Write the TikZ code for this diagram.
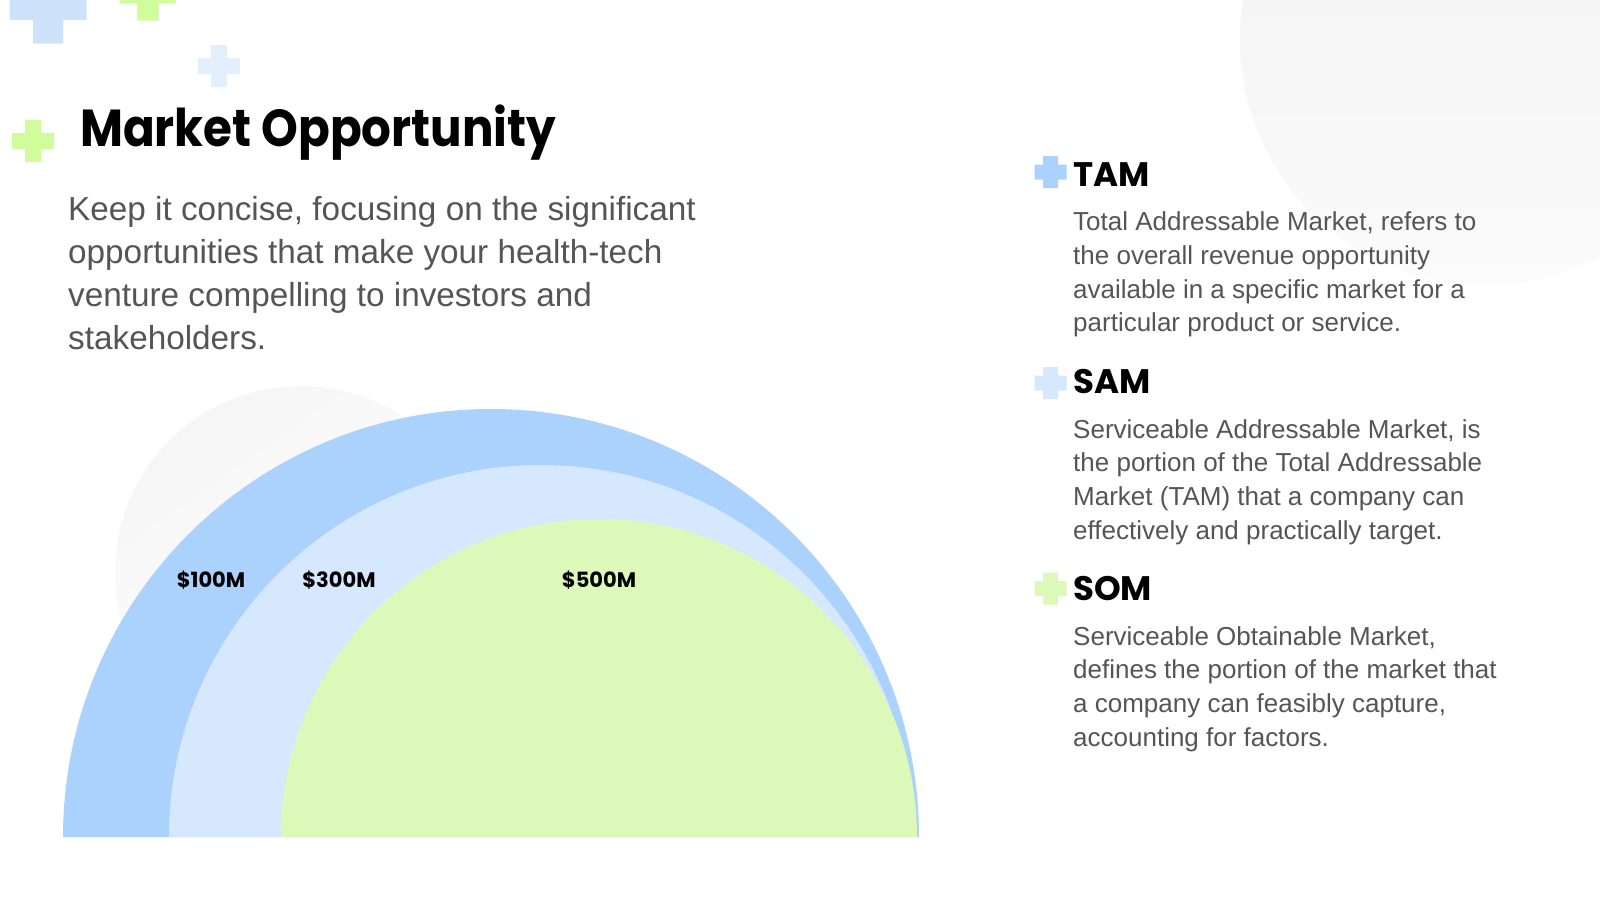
\documentclass[tikz,border=0pt]{standalone}
\usepackage{fontspec}
\setmainfont{Liberation Sans}
\newfontfamily\poppins{Poppins}
\definecolor{tamblue}{RGB}{171,209,253}
\definecolor{samblue}{RGB}{214,232,254}
\definecolor{somgreen}{RGB}{220,249,186}
\definecolor{txtgray}{RGB}{85,85,85}
\definecolor{crossblue}{RGB}{207,226,252}
\definecolor{crossgreen}{RGB}{208,252,155}
\definecolor{crosspale}{RGB}{228,239,254}
\definecolor{bgA}{RGB}{241,241,241}
\definecolor{bgB}{RGB}{251,251,251}
\definecolor{bgC}{RGB}{246,246,246}
\newcommand\plusmark[5]{%
  \fill[#5] (#1-#3,#2-#4) rectangle (#1+#3,#2+#4) (#1-#4,#2-#3) rectangle (#1+#4,#2+#3);}
\begin{document}
\begin{tikzpicture}[x=1pt,y=-1pt,
  bodytext/.style={anchor=base west, inner sep=0pt, text=txtgray, font=\fontsize{26}{33}\selectfont},
  subtext/.style={anchor=base west, inner sep=0pt, text=txtgray, font=\fontsize{33.3}{43}\selectfont},
  headtext/.style={anchor=base west, inner sep=0pt, text=black, font=\poppins\bfseries\fontsize{34}{40}\selectfont},
  titletext/.style={anchor=base west, inner sep=0pt, text=black, font=\poppins\bfseries\fontsize{52}{60}\selectfont},
  valuelabel/.style={anchor=base, inner sep=0pt, text=black, font=\poppins\bfseries\fontsize{21}{26}\selectfont}]
\clip (0,0) rectangle (1600,900);
\fill[white] (0,0) rectangle (1600,900);
% background circles
\shade[left color=bgA, right color=bgB, shading angle=0] (1485,40) circle [radius=245pt];
\shade[top color=bgC, bottom color=white, shading angle=35] (301,572) circle [radius=186pt];
% decorative crosses
\plusmark{48}{5}{38.5}{15}{crossblue}
\plusmark{147.7}{-7.3}{28}{10.9}{crossgreen}
\plusmark{219}{66}{21}{8}{crosspale}
\plusmark{33}{141}{21}{8}{crossgreen}
% title
\node[titletext] (title) at (80,146) {\scalebox{0.9}[1]{Market Opportunity}};
% subtitle
\foreach \t [count=\i] in {{Keep it concise, focusing on the significant},{opportunities that make your health-tech},{venture compelling to investors and},{stakeholders.}}
  \node[subtext] (sub\i) at (68,{220+43*(\i-1)}) {\t};
% half circles
\fill[tamblue] (63,837) arc[start angle=180, end angle=0, radius=428pt] -- cycle;
\fill[samblue] (169,837) arc[start angle=180, end angle=0, radius=372pt] -- cycle;
\fill[somgreen] (281,837) arc[start angle=180, end angle=0, radius=318pt] -- cycle;
\node[valuelabel] (v100) at (211,587) {\$100M};
\node[valuelabel] (v300) at (339,587) {\$300M};
\node[valuelabel] (v500) at (599,587) {\$500M};
% right column
\plusmark{1050.5}{172}{16}{7.5}{tamblue}
\node[headtext] (tam) at (1073,186) {TAM};
\foreach \t [count=\i] in {{Total Addressable Market, refers to},{the overall revenue opportunity},{available in a specific market for a},{particular product or service.}}
  \node[bodytext] (tam\i) at (1073,{230.5+33.8*(\i-1)}) {\t};
\plusmark{1050.5}{383}{16}{7.5}{samblue}
\node[headtext] (sam) at (1073,393) {SAM};
\foreach \t [count=\i] in {{Serviceable Addressable Market, is},{the portion of the Total Addressable},{Market (TAM) that a company can},{effectively and practically target.}}
  \node[bodytext] (sam\i) at (1073,{438+33.8*(\i-1)}) {\t};
\plusmark{1050.5}{588.5}{16}{7.5}{somgreen}
\node[headtext] (som) at (1073,600) {SOM};
\foreach \t [count=\i] in {{Serviceable Obtainable Market,},{defines the portion of the market that},{a company can feasibly capture,},{accounting for factors.}}
  \node[bodytext] (som\i) at (1073,{645+33.8*(\i-1)}) {\t};
\end{tikzpicture}
\end{document}
